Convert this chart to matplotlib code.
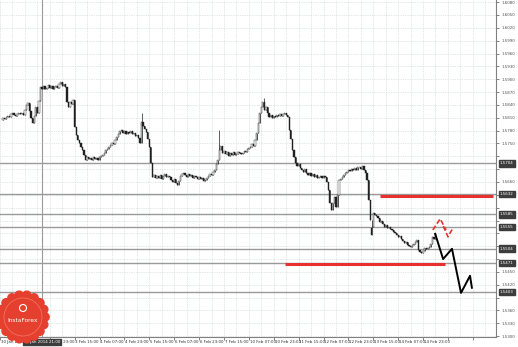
import numpy as np
import matplotlib.pyplot as plt
import matplotlib.transforms as mtransforms
from matplotlib.patches import Circle

# hourly closes, in points (1.5810 -> 15810)
closes = [
    15810, 15806, 15812, 15815, 15811, 15818, 15821, 15817, 15814, 15819,
    15822, 15818, 15820, 15816, 15828, 15839, 15844, 15826, 15810, 15798,
    15815, 15835, 15821, 15850, 15882, 15878, 15884, 15876, 15880, 15886,
    15879, 15883, 15877, 15881, 15885, 15880, 15888, 15893, 15884, 15889,
    15882, 15846, 15835, 15847, 15843, 15851, 15788, 15770, 15758, 15750,
    15742, 15735, 15722, 15711, 15718, 15713, 15716, 15712, 15719, 15714,
    15716, 15712, 15718, 15721, 15723, 15728, 15734, 15738, 15742, 15746,
    15751, 15749, 15758, 15765, 15771, 15778, 15781, 15775, 15779, 15772,
    15776, 15774, 15780, 15771, 15775, 15768, 15770, 15762, 15751, 15800,
    15790, 15784, 15777, 15760, 15742, 15705, 15672, 15676, 15669, 15674,
    15670, 15676, 15668, 15673, 15679, 15671, 15675, 15672, 15665, 15660,
    15668, 15657, 15653, 15662, 15674, 15678, 15681, 15677, 15672, 15679,
    15674, 15677, 15670, 15675, 15672, 15668, 15671, 15666, 15670, 15663,
    15665, 15670, 15674, 15679, 15676, 15683, 15688, 15701, 15712, 15735,
    15744, 15728, 15732, 15725, 15730, 15721, 15727, 15724, 15729, 15723,
    15726, 15731, 15727, 15725, 15728, 15733, 15730, 15737, 15740, 15742,
    15748, 15745, 15758, 15774, 15798, 15821, 15835, 15846, 15828, 15834,
    15820, 15812, 15816, 15810, 15814, 15812, 15817, 15813, 15818, 15815,
    15819, 15821, 15816, 15812, 15781, 15760, 15735, 15718, 15704, 15698,
    15702, 15693, 15688, 15684, 15690, 15681, 15676, 15680, 15674, 15678,
    15672, 15676, 15670, 15672, 15675, 15669, 15673, 15672, 15660, 15641,
    15611, 15595, 15610, 15625, 15602, 15630, 15665, 15668, 15672, 15676,
    15680, 15684, 15688, 15685, 15690, 15687, 15693, 15689, 15694, 15695,
    15691, 15698, 15688, 15680, 15665, 15618, 15571, 15555, 15588, 15584,
    15580, 15575, 15566, 15570, 15562, 15555, 15559, 15553, 15556, 15550,
    15548, 15544, 15540, 15536, 15531, 15534, 15527, 15522, 15517, 15520,
    15514, 15511, 15508, 15512, 15515, 15520, 15525, 15501, 15497, 15494,
    15500, 15506, 15503, 15507, 15508, 15515, 15531, 15527, 15538,
]
first_open = 15805
spike_bars = [89, 139, 168, 237]
spike_prices = [15821, 15781, 15856, 15536]

level_prices = [15704, 15632, 15585, 15555, 15504, 15471, 15403]
red_levels = [15627, 15469]
red_starts = [242, 181]
red_ends = [315, 284]

red_a_bars = [276.3, 281.0, 284.8]
red_a_prices = [15548, 15574, 15548]
red_b_bars = [283.0, 286.0, 289.3]
red_b_prices = [15557, 15532, 15553]
black_bars = [277.8, 282.9, 288.6, 294.4, 300.2, 301.4]
black_prices = [15539, 15480, 15504, 15401, 15441, 15413]

time_labels = ["30 Jan 23:00", "31 Jan 15:00", "2 Feb 23:00", "3 Feb 15:00",
               "4 Feb 07:00", "4 Feb 23:00", "5 Feb 15:00", "6 Feb 07:00",
               "6 Feb 23:00", "7 Feb 15:00", "10 Feb 07:00", "10 Feb 23:00",
               "11 Feb 15:00", "12 Feb 07:00", "12 Feb 23:00", "13 Feb 15:00",
               "14 Feb 07:00", "14 Feb 23:00"]
first_label_bar = -2
vline_bar = 25
vline_text = "31 Jan 2014 21:00"

PT = 10000.0
FS = 2.9


def main():
    c = np.array(closes) / PT
    o = np.concatenate([[first_open / PT], c[:-1]])
    hi = np.maximum(o, c)
    lo = np.minimum(o, c)
    for b, p in zip(spike_bars, spike_prices):
        hi[b] = max(hi[b], p / PT)
        lo[b] = min(lo[b], p / PT)
    x = np.arange(len(c))

    fig = plt.figure(figsize=(5.18, 3.47), dpi=100)
    ax = fig.add_axes([0, 1 - 337 / 347, 496 / 518, 337 / 347])
    ax.set_xlim(-0.5, 316.9)
    ax.set_ylim(1.5298, 1.6085)

    yt = np.arange(1.6080, 1.5299, -0.0030)
    lv = np.array(level_prices) / PT
    ax.set_yticks(yt)
    # labels hidden under the level boxes
    ax.set_yticklabels(["" if np.min(np.abs(lv - v)) < 0.0017 else "%.4f" % v
                        for v in yt])
    ax.yaxis.tick_right()
    ax.tick_params(axis="y", labelsize=FS, length=2, width=0.5,
                   colors="#505050", pad=2)
    ax.set_xticks(np.arange(first_label_bar, 317, 16))
    ax.set_xticklabels([])
    ax.tick_params(axis="x", length=2, width=0.5, colors="#505050")

    # dotted grid
    for v in yt:
        ax.axhline(v, color="#c6d0d0", lw=0.5, ls=(0, (1, 1.5)), zorder=0)
    for b in np.arange(first_label_bar, 317, 8):
        ax.axvline(b, color="#c6d0d0", lw=0.5, ls=(0, (1, 1.5)), zorder=0)

    for s in ["left", "top"]:
        ax.spines[s].set_visible(False)
    ax.spines["right"].set_color("#808080")
    ax.spines["bottom"].set_color("#808080")
    ax.spines["right"].set_linewidth(0.8)
    ax.spines["bottom"].set_linewidth(0.8)

    # levels
    for p in level_prices:
        ax.axhline(p / PT, color="#9a9a9a", lw=1.0, zorder=1)
    ax.axvline(vline_bar, color="#9a9a9a", lw=0.8, zorder=1)

    # candles
    ax.vlines(x, lo, hi, color="#202020", lw=0.5, zorder=3)
    up = c >= o
    h = np.maximum(np.abs(c - o), 0.00004)
    ax.bar(x[up], h[up], bottom=lo[up], width=0.8, color="white",
           edgecolor="#202020", lw=0.3, zorder=4)
    ax.bar(x[~up], h[~up], bottom=lo[~up], width=0.8, color="#202020",
           edgecolor="#202020", lw=0.3, zorder=4)

    # red levels
    for p, a, b in zip(red_levels, red_starts, red_ends):
        ax.plot([a, b], [p / PT, p / PT], color="#e8312f", lw=2.2,
                solid_capstyle="butt", zorder=5)

    # projections
    ax.plot(red_a_bars, np.array(red_a_prices) / PT, color="#e8312f",
            lw=1.2, ls=(0, (3, 1.5)), zorder=6)
    ax.plot(red_b_bars, np.array(red_b_prices) / PT, color="#e8312f",
            lw=1.2, ls=(0, (3, 1.5)), zorder=6)
    ax.plot(black_bars, np.array(black_prices) / PT, color="black",
            lw=1.4, zorder=6)

    # price boxes on the axis
    tr = mtransforms.blended_transform_factory(ax.transAxes, ax.transData)
    for p in level_prices:
        ax.text(1.008, p / PT, "%.4f" % (p / PT), transform=tr,
                fontsize=FS, color="white", va="center", ha="left",
                zorder=10, clip_on=False,
                bbox=dict(boxstyle="square,pad=0.35", fc="#3c3c3c",
                          ec="#3c3c3c"))

    # time labels (the one fully under the vertical line box is hidden)
    trx = mtransforms.blended_transform_factory(ax.transData, ax.transAxes)
    for i, lab in enumerate(time_labels):
        b = first_label_bar + 16 * i
        if -14 < b - vline_bar < 0:
            continue
        ax.text(b + 0.5, -0.008, lab, transform=trx,
                fontsize=FS, color="#303030", va="top", ha="left",
                clip_on=False)
    ax.text(vline_bar, -0.008, vline_text, transform=trx, fontsize=FS,
            color="white", va="top", ha="center", zorder=10, clip_on=False,
            bbox=dict(boxstyle="square,pad=0.25", fc="#3c3c3c", ec="#3c3c3c"))

    # InstaForex badge
    bx = fig.add_axes([0, 1 - 345 / 347, 52 / 518, 58 / 347])
    bx.set_xlim(0, 52)
    bx.set_ylim(0, 58)
    bx.axis("off")
    cx, cy = 23, 28
    bx.add_patch(Circle((cx, cy), 23, color="#e5402f", zorder=1))
    for a in np.linspace(0, 2 * np.pi, 18, endpoint=False):
        bx.add_patch(Circle((cx + 22 * np.cos(a), cy + 22 * np.sin(a)), 4.2,
                            color="#e5402f", zorder=1))
    bx.add_patch(Circle((cx, cy), 19, fill=False, ec="#f27a68", lw=0.5,
                        zorder=2))
    bx.add_patch(Circle((cx, cy + 9), 3.5, fill=False, ec="white", lw=0.8,
                        zorder=3))
    bx.text(cx, cy - 3, "InstaForex", color="white", fontsize=4.2,
            ha="center", va="center", zorder=3)

    fig.savefig("out.png", dpi=100, facecolor="white")


if __name__ == '__main__':
    main()
